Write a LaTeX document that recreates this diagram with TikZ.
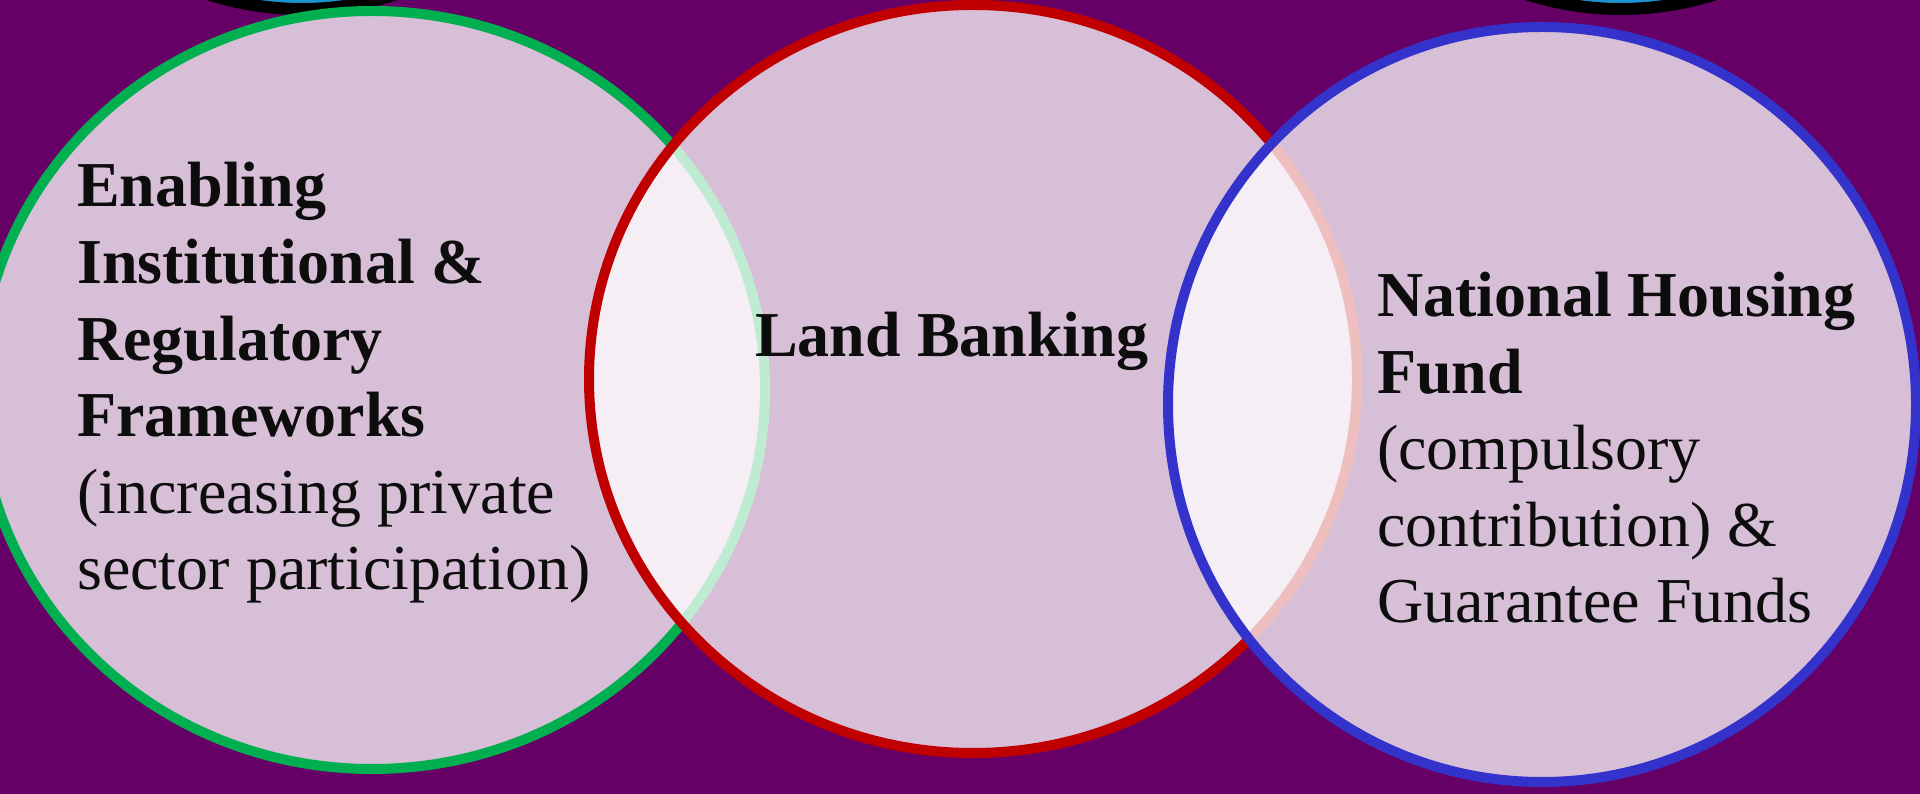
\documentclass[tikz,border=0pt]{standalone}
\usepackage{fontspec}
\setmainfont{Liberation Serif}

\definecolor{fondo}{RGB}{102,0,102}
\definecolor{verde}{RGB}{0,176,80}
\definecolor{rojo}{RGB}{192,0,0}
\definecolor{azul}{RGB}{51,51,204}
\definecolor{celeste}{RGB}{28,148,210}
\definecolor{tinta}{RGB}{13,13,13}

\begin{document}
\begin{tikzpicture}[x=1pt, y=1pt,
    % Estilos de las elipses (relleno blanco translucido)
    setbox/.style={line width=10pt, fill=white, fill opacity=0.75},
    ringbox/.style={line width=12pt, draw=black, fill=celeste},
    % Estilos para los textos (anclados en la linea base de la ultima linea)
    settext/.style={font=\fontsize{64}{76.6}\selectfont, text=tinta,
        align=left, anchor=base west, inner sep=0pt}
]

\useasboundingbox (0, 0) rectangle (1920, 794);
\clip (0, 0) rectangle (1920, 794);

% --- FONDO ---
\fill[fondo] (0, 0) rectangle (1920, 794);

% --- ANILLOS SUPERIORES ---
\draw[ringbox] (302, 1165) ellipse [x radius=340, y radius=380];
\draw[ringbox] (1621, 1165) ellipse [x radius=340, y radius=380];

% --- ELIPSES ---
\draw[setbox, draw=verde] (372, 404) ellipse [x radius=393, y radius=379];
\draw[setbox, draw=rojo] (973, 415) ellipse [x radius=384, y radius=374];
\draw[setbox, draw=azul] (1542, 389.5) ellipse [x radius=374, y radius=377.5];

% --- TEXTOS ---
\node[settext] (enabling) at (77, 204) {\textbf{Enabling}\\
    \textbf{Institutional \&}\\
    \textbf{Regulatory}\\
    \textbf{Frameworks}\\
    (increasing private\\
    sector participation)};
\node[settext] (landbank) at (755, 437) {\textbf{Land Banking}};
\node[settext] (housing) at (1377, 171) {\textbf{National Housing}\\
    \textbf{Fund}\\
    (compulsory\\
    contribution) \&\\
    Guarantee Funds};

\end{tikzpicture}
\end{document}
